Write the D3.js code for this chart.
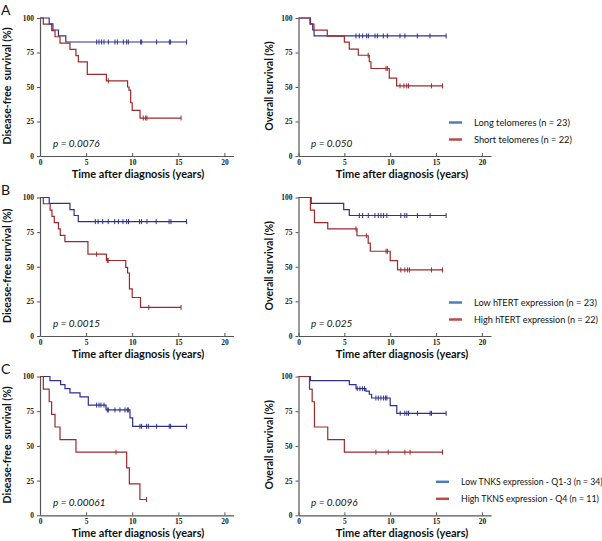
<!DOCTYPE html>
<html><head><meta charset="utf-8">
<script src="https://cdn.jsdelivr.net/npm/d3@7"></script>
<style>body{margin:0;background:#fff}svg{display:block}</style>
</head><body>
<svg id="c" width="602" height="541"></svg>
<script>
// ---------- DATA ----------
const xTicks = [0, 5, 10, 15, 20];
const yTicks = [0, 25, 50, 75, 100];
const panelLetters = ["A", "B", "C"];
const pValuesDFS = ["p = 0.0076", "p = 0.0015", "p = 0.00061"];
const pValuesOS = ["p = 0.050", "p = 0.025", "p = 0.0096"];
const legendLow = ["Long telomeres (n = 23)", "Low hTERT expression (n = 23)", "Low TNKS expression - Q1-3 (n = 34)"];
const legendHigh = ["Short telomeres (n = 22)", "High hTERT expression (n = 22)", "High TKNS expression - Q4 (n = 11)"];
const yTitlesDFS = ["Disease-free  survival (%)", "Disease-free survival (%)", "Disease-free  survival (%)"];
const yTitleOS = "Overall survival (%)";
const xTitle = "Time after diagnosis (years)";

// A: telomeres — disease-free survival  [time (years), survival %]
const telLongDFS = [[0,100],[1.0,95.7],[1.4,91.3],[2.0,87.0],[2.8,82.6]];
const telLongDFSEnd = 15.9;
const telLongDFSCens = [6.15,6.4,6.68,6.94,7.41,8.13,8.39,9.04,9.4,9.58,10.92,11.03,12.65,14.03,14.17];
const telShortDFS = [[0,100],[0.36,95.5],[1.27,90.9],[1.63,86.4],[2.17,81.8],[3.25,77.3],[3.9,72.7],[4.16,68.2],[5.13,59.1],[7.2,54.5],[9.5,50.0],[9.65,47.7],[9.83,38.6],[10.0,33.0],[10.85,27.5]];
const telShortDFSEnd = 15.3;
const telShortDFSCens = [7.41,11.2,11.46,11.6];
// A: telomeres — overall survival
const telLongOS = [[0,100],[1.3,95.7],[1.55,91.3],[1.7,87.0]];
const telLongOSEnd = 16.1;
const telLongOSCens = [6.27,6.63,7.0,7.43,7.62,8.34,8.6,9.25,9.69,11.07,11.6,12.96,14.34];
const telShortOS = [[0,100],[1.25,95.5],[1.69,91.2],[3.14,86.8],[5.0,82.5],[5.54,77.5],[6.52,73.0],[7.72,68.3],[7.9,63.4],[9.9,56.4],[10.7,50.8]];
const telShortOSEnd = 15.7;
const telShortOSCens = [7.6,9.54,9.69,11.07,11.5,11.8,12.0,14.5];

// B: hTERT — disease-free survival
const hLowDFS = [[0,100],[1.0,95.7],[3.25,91.3],[3.7,87.0],[4.15,82.6]];
const hLowDFSEnd = 15.9;
const hLowDFSCens = [6.0,6.3,6.8,7.4,8.1,8.5,9.0,9.4,9.6,10.8,11.0,11.6,12.6,14.0,14.2];
const hHighDFS = [[0,100],[0.36,95.5],[1.1,90.9],[1.3,86.4],[1.55,81.8],[2.0,77.3],[2.2,72.7],[2.7,68.2],[5.2,59.1],[7.2,54.5],[9.3,49.6],[9.5,45.5],[9.7,34.0],[10.0,27.8],[10.9,20.6]];
const hHighDFSEnd = 15.3;
const hHighDFSCens = [6.14,7.3,7.4,11.8];
// B: hTERT — overall survival
const hLowOS = [[0,100],[1.38,95.7],[4.93,91.3],[5.54,87.0]];
const hLowOSEnd = 16.1;
const hLowOSCens = [6.63,6.99,7.61,8.33,8.7,8.99,9.28,9.64,11.16,11.59,11.81,12.97,14.35];
const hHighOS = [[0,100],[1.3,90.9],[1.74,81.8],[3.19,77.3],[6.38,72.4],[7.6,67.0],[7.83,61.2],[10.0,54.4],[10.8,47.7]];
const hHighOSEnd = 15.7;
const hHighOSCens = [6.27,7.4,9.55,9.7,11.16,11.6,11.9,12.1,14.5];

// C: TNKS — disease-free survival
const tLowDFS = [[0,100],[1.08,97.1],[2.24,94.1],[2.71,91.2],[3.25,88.2],[4.34,85.3],[5.24,79.4],[7.16,75.9],[9.76,70.2],[10.05,64.1]];
const tLowDFSEnd = 15.9;
const tLowDFSCens = [6.14,6.4,6.61,6.94,7.3,7.41,8.13,8.67,9.22,9.47,9.58,10.84,11.02,11.56,11.75,12.65,14.02,14.17];
const tHighDFS = [[0,100],[0.36,90.9],[1.0,81.8],[1.26,72.7],[1.63,63.6],[2.17,54.5],[3.9,45.5],[9.4,34.1],[9.69,22.7],[10.84,11.4]];
const tHighDFSEnd = 11.56;
const tHighDFSCens = [8.24];
// C: TNKS — overall survival
const tLowOS = [[0,100],[1.3,97.1],[5.54,94.1],[6.27,91.2],[7.35,89.5],[7.72,87.2],[7.97,84.5],[10.0,79.0],[10.72,73.5]];
const tLowOSEnd = 16.1;
const tLowOSCens = [6.4,6.7,6.99,7.2,8.44,8.7,8.99,9.28,9.5,9.64,11.09,11.59,11.81,12.0,12.97,14.35,14.5];
const tHighOS = [[0,100],[1.2,90.9],[1.49,81.8],[1.74,63.6],[3.19,54.5],[5.0,45.5]];
const tHighOSEnd = 15.7;
const tHighOSCens = [8.44,9.78,11.6,12.17];

// ---------- DRAWING ----------
const svg = d3.select("#c");
const BLUE = "#2c3090", RED = "#9c2a2c";
const LEG_BLUE = "#4a7ebb", LEG_RED = "#be4b48";
const SANS = "Lato, 'Open Sans', sans-serif";

const rows = [
  {y0: 156, y100: 18, low: [telLongDFS, telLongDFSEnd, telLongDFSCens], high: [telShortDFS, telShortDFSEnd, telShortDFSCens],
   lowOS: [telLongOS, telLongOSEnd, telLongOSCens], highOS: [telShortOS, telShortOSEnd, telShortOSCens],
   legX: 449, legW: [96, 98]},
  {y0: 336, y100: 197.5, low: [hLowDFS, hLowDFSEnd, hLowDFSCens], high: [hHighDFS, hHighDFSEnd, hHighDFSCens],
   lowOS: [hLowOS, hLowOSEnd, hLowOSCens], highOS: [hHighOS, hHighOSEnd, hHighOSCens],
   legX: 449, legW: [123, 124]},
  {y0: 515.3, y100: 376.5, low: [tLowDFS, tLowDFSEnd, tLowDFSCens], high: [tHighDFS, tHighDFSEnd, tHighDFSCens],
   lowOS: [tLowOS, tLowOSEnd, tLowOSCens], highOS: [tHighOS, tHighOSEnd, tHighOSCens],
   legX: 436, legW: [142, 138]}
];

function valueAt(steps, t) {
  let v = steps[0][1];
  for (const s of steps) { if (s[0] <= t) v = s[1]; }
  return v;
}

function drawCurve(g, x, y, ser, color) {
  const [steps, end, cens] = ser;
  const pts = steps.concat([[end, steps[steps.length - 1][1]]]);
  g.append("path").datum(pts)
    .attr("fill", "none").attr("stroke", color).attr("stroke-width", 1.2)
    .attr("d", d3.line().x(d => x(d[0])).y(d => y(d[1])).curve(d3.curveStepAfter));
  g.selectAll(null).data(cens.concat([end])).enter().append("line")
    .attr("x1", d => x(d)).attr("x2", d => x(d))
    .attr("y1", d => y(valueAt(steps, d)) - 2.5).attr("y2", d => y(valueAt(steps, d)) + 2.5)
    .attr("stroke", color).attr("stroke-width", 1);
}

function drawPlot(x0, ppy, row, lowSer, highSer, yTitle, yTitleX, pText, pX, xTitleX) {
  const g = svg.append("g");
  const x = d3.scaleLinear().domain([0, 21]).range([x0, x0 + 21 * ppy]);
  const y = d3.scaleLinear().domain([0, 100]).range([row.y0, row.y100]);
  const xa = g.append("g").attr("transform", `translate(0,${row.y0})`)
    .call(d3.axisBottom(x).tickValues(xTicks).tickSizeInner(-3).tickSizeOuter(0).tickPadding(3.5));
  const ya = g.append("g").attr("transform", `translate(${x0},0)`)
    .call(d3.axisLeft(y).tickValues(yTicks).tickSizeInner(3).tickSizeOuter(0).tickPadding(3));
  [xa, ya].forEach(a => {
    a.select(".domain").attr("stroke", "#555").attr("stroke-width", 1.2);
    a.selectAll(".tick line").attr("stroke", "#555");
    a.selectAll(".tick text").attr("fill", "#222").attr("font-family", "'Liberation Serif', serif")
      .attr("font-weight", "bold").attr("font-size", 7.5);
  });
  drawCurve(g, x, y, lowSer, BLUE);
  drawCurve(g, x, y, highSer, RED);
  // titles
  g.append("text").attr("x", xTitleX).attr("y", row.y0 + 21.5).attr("text-anchor", "middle")
    .attr("font-family", SANS).attr("font-weight", "bold").attr("font-size", 11).attr("fill", "#111").text(xTitle);
  g.append("text").attr("transform", `translate(${yTitleX},${(row.y0 + row.y100) / 2 - 1}) rotate(-90)`)
    .attr("text-anchor", "middle").attr("dominant-baseline", "central").style("white-space", "pre")
    .attr("font-family", SANS).attr("font-weight", "bold").attr("font-size", 10.5).attr("fill", "#111").text(yTitle);
  g.append("text").attr("x", pX).attr("y", row.y0 - 9.5)
    .attr("font-family", SANS).attr("font-style", "italic").attr("font-size", 10).attr("fill", "#111").text(pText);
  return {x, y};
}

rows.forEach((row, i) => {
  drawPlot(40, 9.22, row, row.low, row.high, yTitlesDFS[i], 7, pValuesDFS[i], 53, 138);
  drawPlot(298.5, 9.17, row, row.lowOS, row.highOS, yTitleOS, 269, pValuesOS[i], 311, 402);
  // panel letter
  svg.append("text").attr("x", 1).attr("y", row.y100 - 3).attr("font-family", SANS).attr("font-size", 14)
    .attr("fill", "#111").text(panelLetters[i]);
  // legend
  const lg = svg.append("g");
  const ly1 = row.y0 - 33.5, ly2 = row.y0 - 16.5;
  [[ly1, LEG_BLUE, legendLow[i], row.legW[0]], [ly2, LEG_RED, legendHigh[i], row.legW[1]]].forEach(([ly, col, txt, w]) => {
    lg.append("line").attr("x1", row.legX).attr("x2", row.legX + 13).attr("y1", ly).attr("y2", ly)
      .attr("stroke", col).attr("stroke-width", 2.5);
    const t = lg.append("text").attr("x", row.legX + 25).attr("y", ly).attr("dominant-baseline", "central")
      .attr("font-family", SANS).attr("font-size", 10.5).attr("fill", "#111").text(txt);
    const nat = t.node().getComputedTextLength();
    if (nat > w) t.attr("font-size", (10.5 * w / nat).toFixed(2));
  });
});
</script>
</body></html>
